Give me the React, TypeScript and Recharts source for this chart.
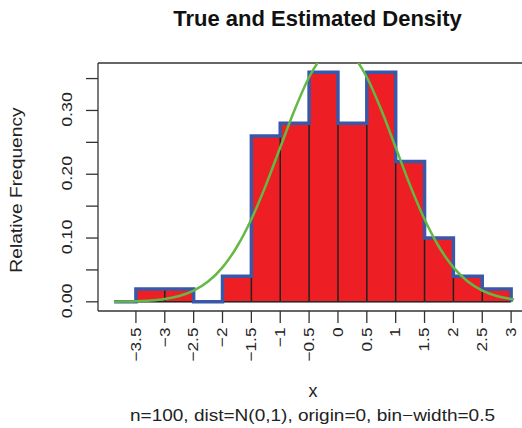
import { ComposedChart, Area, Line, XAxis, YAxis, ReferenceLine } from 'recharts';

// histogram bins (left edges) and relative frequency (density) per bin
const binStarts = [-3.5, -3, -2.5, -2, -1.5, -1, -0.5, 0, 0.5, 1, 1.5, 2, 2.5];
const relFreq = [0.02, 0.02, 0, 0.04, 0.26, 0.28, 0.36, 0.28, 0.36, 0.22, 0.1, 0.04, 0.02];
const binWidth = 0.5;
const sampleMin = -3.88;

// true density curve
const curveX = [-3.88, -3.75, -3.5, -3.25, -3, -2.75, -2.5, -2.25, -2, -1.75, -1.5, -1.25, -1, -0.75, -0.5, -0.25, 0, 0.25, 0.5, 0.75, 1, 1.25, 1.5, 1.75, 2, 2.25, 2.5, 2.75, 3, 3.05];
const curveY = [0.0002, 0.0004, 0.0009, 0.002, 0.0044, 0.0091, 0.0175, 0.0317, 0.054, 0.0863, 0.1295, 0.1826, 0.242, 0.3011, 0.3521, 0.3867, 0.3989, 0.3867, 0.3521, 0.3011, 0.242, 0.1826, 0.1295, 0.0863, 0.054, 0.0317, 0.0175, 0.0091, 0.0044, 0.0038];

const xTicks = [-3.5, -3, -2.5, -2, -1.5, -1, -0.5, 0, 0.5, 1, 1.5, 2, 2.5, 3];
const yTicks = [0, 0.05, 0.1, 0.15, 0.2, 0.25, 0.3, 0.35];
const xDomain = [-4.157, 3.327];
const yDomain = [-0.0144, 0.3744];

const FONT = 'Liberation Sans, Arial, Helvetica, sans-serif';
const INK = '#333';

const lastEdge = binStarts[binStarts.length - 1] + binWidth;
const stepData = [
  { x: sampleMin, y: 0 },
  ...binStarts.map((s, i) => ({ x: s, y: relFreq[i] })),
  { x: lastEdge, y: 0 },
];
const curveData = curveX.map((x, i) => ({ x, y: curveY[i] }));

// inner bin borders (visible up to the lower neighbour)
const dividers = binStarts.slice(1).map((s, i) => ({ x: s, h: Math.min(relFreq[i], relFreq[i + 1]) })).filter(d => d.h > 0);
const bottoms = binStarts.map((s, i) => ({ a: s, b: s + binWidth, h: relFreq[i] })).filter(d => d.h > 0);

const fmt = (v: number) => (v < 0 ? '\u2212' : '') + String(Math.abs(v));

const XTick = ({ x, payload }: any) => (
  <text
    transform={`translate(${x + 4.8},327.5) rotate(-90) scale(1.15,1)`}
    textAnchor="end"
    fontSize={15}
    fontFamily={FONT}
    fill="#222"
  >
    {fmt(payload.value)}
  </text>
);

const YTick = ({ y, payload }: any) => {
  const v = payload.value;
  if (Math.round(v * 100) % 10 !== 0) return null;
  return (
    <text
      transform={`translate(71.5,${y - 1}) rotate(-90) scale(1.15,1)`}
      textAnchor="middle"
      fontSize={15.5}
      fontFamily={FONT}
      fill="#222"
    >
      {v.toFixed(2)}
    </text>
  );
};

export default function App() {
  return (
    <div style={{ position: 'absolute', left: 0, top: 0, width: 522, height: 428, overflow: 'hidden', background: '#fff' }}>
      <ComposedChart width={540} height={428} margin={{ top: 63, right: 10, bottom: 77, left: 0 }}>
        <XAxis
          dataKey="x"
          type="number"
          domain={xDomain}
          ticks={xTicks}
          interval={0}
          allowDataOverflow
          height={40}
          tickSize={12}
          axisLine={{ stroke: INK, strokeWidth: 1.3 }}
          tickLine={{ stroke: INK, strokeWidth: 1.3 }}
          tick={<XTick />}
        />
        <YAxis
          dataKey="y"
          type="number"
          domain={yDomain}
          ticks={yTicks}
          interval={0}
          allowDataOverflow
          width={98}
          tickSize={12}
          axisLine={{ stroke: INK, strokeWidth: 1.3 }}
          tickLine={{ stroke: INK, strokeWidth: 1.3 }}
          tick={<YTick />}
        />
        <Area
          data={stepData}
          dataKey="y"
          type="stepAfter"
          baseValue={0}
          fill="#ed1f24"
          fillOpacity={1}
          stroke="none"
          isAnimationActive={false}
        />
        {bottoms.map((d, i) => (
          <ReferenceLine key={`b${i}`} segment={[{ x: d.a, y: 0 }, { x: d.b, y: 0 }]} stroke="#222" strokeWidth={1.5} />
        ))}
        {dividers.map((d, i) => (
          <ReferenceLine key={`d${i}`} segment={[{ x: d.x, y: 0 }, { x: d.x, y: d.h }]} stroke="#222" strokeWidth={1.5} />
        ))}
        <ReferenceLine y={yDomain[1]} stroke={INK} strokeWidth={1.3} />
        <Line
          data={stepData}
          dataKey="y"
          type="stepAfter"
          stroke="#3a58a8"
          strokeWidth={3.5}
          dot={false}
          activeDot={false}
          isAnimationActive={false}
        />
        <Line
          data={curveData}
          dataKey="y"
          type="monotone"
          stroke="#64b944"
          strokeWidth={2.5}
          dot={false}
          activeDot={false}
          isAnimationActive={false}
        />
      </ComposedChart>
      <svg width={522} height={428} style={{ position: 'absolute', left: 0, top: 0, pointerEvents: 'none' }}>
        <text x={317.5} y={26} textAnchor="middle" fontSize={22} fontWeight="bold" fontFamily={FONT} fill="#111">
          True and Estimated Density
        </text>
        <text transform="translate(22,190) rotate(-90) scale(1.2,1)" textAnchor="middle" fontSize={16} fontFamily={FONT} fill="#222">
          Relative Frequency
        </text>
        <text x={313} y={397} textAnchor="middle" fontSize={18} fontFamily={FONT} fill="#222">
          x
        </text>
        <text x={312.5} y={421} textAnchor="middle" fontSize={16.5} textLength={365} lengthAdjust="spacingAndGlyphs" fontFamily={FONT} fill="#222">
          n=100, dist=N(0,1), origin=0, bin{'\u2212'}width=0.5
        </text>
      </svg>
    </div>
  );
}
